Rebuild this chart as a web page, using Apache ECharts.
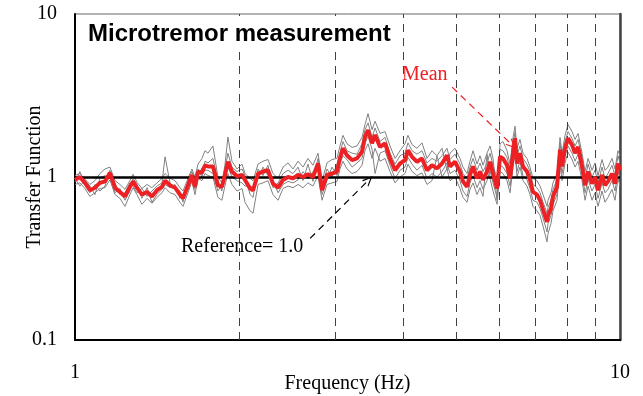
<!DOCTYPE html>
<html><head><meta charset="utf-8">
<script src="https://cdn.jsdelivr.net/npm/echarts@6/dist/echarts.min.js"></script>
<style>html,body{margin:0;padding:0;background:#fff}#c{width:643px;height:396px}</style>
</head><body><div id="c"></div>
<script>
const freq = [
1.000,1.021,1.043,1.065,1.088,1.111,1.135,1.159,1.184,1.209,
1.235,1.261,1.278,1.299,1.327,1.356,1.384,1.414,1.444,1.463,
1.494,1.526,1.558,1.578,1.612,1.639,1.660,1.682,1.710,1.732,
1.754,1.791,1.829,1.860,1.884,1.908,1.941,1.983,2.025,2.051,
2.095,2.122,2.167,2.213,2.260,2.308,2.358,2.408,2.460,2.512,
2.566,2.620,2.676,2.733,2.792,2.840,2.900,2.962,3.025,3.063,
3.102,3.155,3.224,3.292,3.362,3.405,3.449,3.508,3.553,3.628,
3.706,3.784,3.866,3.948,4.032,4.083,4.153,4.242,4.332,4.425,
4.519,4.615,4.714,4.814,4.876,4.980,5.086,5.151,5.240,5.306,
5.374,5.466,5.535,5.606,5.702,5.775,5.848,5.948,6.024,6.100,
6.204,6.284,6.364,6.418,6.471,6.554,6.637,6.750,6.837,6.924,
7.043,7.133,7.224,7.347,7.378,7.472,7.535,7.664,7.762,7.828,
7.928,8.029,8.166,8.270,8.376,8.519,8.628,8.738,8.885,8.999,
9.114,9.268,9.387,9.506,9.667,9.791,9.916,10.0];

const meanTF = [
0.96,1.00,0.92,0.83,0.86,0.92,0.94,1.06,0.86,0.81,
0.76,0.87,0.94,0.86,0.78,0.81,0.76,0.83,0.87,0.95,
0.89,0.86,0.78,0.74,0.89,1.03,0.87,1.08,1.06,1.18,
1.16,1.16,0.89,0.87,1.03,1.24,1.08,1.01,1.03,0.96,
0.85,0.83,1.05,1.08,1.10,0.91,0.86,0.96,1.00,0.98,
1.03,1.00,1.04,1.00,1.21,0.83,1.03,1.05,1.08,1.30,
1.50,1.36,1.27,1.30,1.43,1.77,1.94,1.61,1.81,1.53,
1.61,1.30,1.10,1.21,1.27,1.46,1.33,1.24,1.30,1.10,
1.18,1.13,1.21,1.36,1.16,1.24,1.08,0.94,0.87,1.03,
1.16,0.98,1.08,0.96,1.08,1.24,1.05,0.85,1.33,1.30,
1.18,0.98,1.40,1.73,1.21,1.40,1.16,1.08,0.96,0.81,
0.78,0.72,0.63,0.53,0.58,0.64,0.76,0.87,1.47,1.16,
1.50,1.73,1.57,1.40,1.53,1.16,0.89,1.08,0.91,1.00,
0.83,1.03,0.89,0.94,1.05,0.91,1.21,1.10];

const run1 = [
1.02,1.05,0.97,0.90,0.95,1.05,1.12,1.15,0.95,0.90,
0.84,0.95,1.04,0.93,0.85,0.90,0.86,0.92,0.98,1.05,
0.98,0.95,0.86,0.82,0.98,1.12,1.00,1.20,1.30,1.45,
1.40,1.55,1.00,0.92,1.18,1.76,1.25,1.12,1.20,1.05,
0.98,0.95,1.20,1.25,1.28,1.05,0.98,1.15,1.22,1.12,
1.25,1.15,1.30,1.18,1.40,0.95,1.22,1.28,1.30,1.55,
1.80,1.60,1.52,1.55,1.75,2.10,2.45,1.95,2.20,1.85,
1.90,1.55,1.30,1.45,1.60,1.80,1.58,1.50,1.62,1.30,
1.45,1.35,1.50,1.10,1.40,1.50,1.30,1.15,1.05,1.25,
1.45,1.20,1.35,1.18,1.40,1.55,1.30,0.72,1.60,1.65,
1.45,1.20,1.75,2.05,1.50,1.70,1.40,1.30,1.15,0.98,
0.95,0.88,0.78,0.66,0.72,0.80,0.92,1.05,1.75,1.40,
1.80,2.10,1.90,1.70,1.85,1.40,1.08,1.30,1.10,1.22,
1.02,1.28,1.10,1.15,1.30,1.12,1.45,1.35];

const run2 = [
0.90,0.92,0.85,0.76,0.80,0.85,0.86,0.96,0.78,0.74,
0.66,0.78,0.86,0.78,0.68,0.74,0.69,0.75,0.80,0.86,
0.80,0.78,0.70,0.66,0.80,0.94,0.78,0.98,0.95,1.05,
1.02,1.00,0.75,0.72,0.88,1.05,0.90,0.82,0.85,0.70,
0.62,0.60,0.90,0.92,0.95,0.78,0.72,0.85,0.88,0.86,
0.90,0.86,0.92,0.88,1.02,0.72,0.90,0.92,0.94,1.12,
1.25,1.12,1.05,1.08,1.18,1.45,1.60,1.30,1.50,1.25,
1.30,1.08,0.92,1.00,1.05,1.20,1.08,1.02,1.06,0.90,
0.95,1.35,1.00,1.12,0.95,1.00,0.85,0.75,0.70,0.84,
0.92,0.78,0.86,0.76,1.38,0.98,0.82,0.68,1.08,1.05,
0.95,0.80,1.15,1.45,1.00,1.15,0.95,0.88,0.78,0.66,
0.62,0.58,0.50,0.40,0.45,0.52,0.62,0.72,1.20,0.95,
1.22,1.42,1.28,1.15,1.25,0.95,0.72,0.88,0.72,0.80,
0.66,0.82,0.70,0.75,0.84,0.72,0.98,0.88];

const run3 = [
0.98,0.88,0.95,0.88,0.78,0.98,1.02,0.98,0.92,0.78,
0.80,0.92,0.88,0.80,0.85,0.76,0.82,0.88,0.92,1.33,
0.92,0.84,0.82,0.70,0.95,1.08,0.92,1.12,1.00,1.25,
1.22,1.30,0.95,0.82,1.10,1.40,1.15,1.08,1.12,1.02,
0.78,0.75,1.12,1.02,1.18,0.86,0.92,1.05,1.10,1.05,
1.15,0.95,1.20,0.94,1.30,0.88,1.12,1.00,1.20,1.40,
1.65,1.45,1.40,1.38,1.60,1.95,2.15,1.75,2.00,1.65,
1.75,1.40,1.20,1.35,1.40,1.62,1.45,1.38,1.45,1.22,
1.30,1.25,1.35,1.50,1.28,1.38,1.20,1.05,0.98,1.15,
1.30,1.10,1.22,1.08,1.22,1.40,1.18,0.98,1.48,1.45,
1.32,1.10,1.58,1.88,1.35,1.55,1.30,1.20,1.08,0.90,
0.86,0.80,0.70,0.60,0.65,0.72,0.84,0.96,1.62,1.28,
1.65,1.90,1.72,1.55,1.70,1.30,0.98,1.20,1.00,1.10,
0.92,1.15,0.98,1.05,1.18,1.02,1.35,1.22];

const run4 = [
0.93,1.08,0.90,0.80,0.90,0.82,0.88,1.10,0.80,0.85,
0.72,0.82,0.98,0.90,0.74,0.86,0.70,0.78,0.84,0.90,
0.86,0.90,0.74,0.78,0.84,0.98,0.84,1.02,1.14,1.10,
1.10,1.05,0.82,0.90,0.95,1.15,1.00,0.95,0.92,0.88,
0.88,0.86,0.98,1.15,1.02,0.95,0.80,0.90,0.94,0.92,
0.96,1.08,0.98,1.08,1.12,0.78,0.96,1.15,1.02,1.22,
1.35,1.28,1.15,1.22,1.30,1.62,1.78,1.48,1.05,1.40,
1.45,1.18,0.98,1.10,1.15,1.32,1.20,1.10,1.18,0.98,
1.05,1.00,1.08,1.22,1.05,1.10,0.95,0.82,0.76,0.92,
1.02,0.86,0.95,0.84,0.95,1.10,0.92,0.75,1.18,1.15,
1.05,0.88,1.25,1.55,1.08,1.25,1.02,0.96,0.85,0.72,
0.70,0.64,0.56,0.46,0.52,0.58,0.68,0.78,1.30,1.05,
1.35,1.55,1.40,1.25,1.38,1.05,0.80,0.96,0.82,0.90,
0.74,0.92,0.80,0.84,0.95,0.82,1.08,0.98];

const refValue = 1.0;
const gridFreqs = [2, 3, 4, 5, 6, 7, 8, 9];
const meanArrow = [[4.92, 3.56], [6.34, 1.57]];
const refArrow = [[2.70, 0.42], [3.46, 0.96]];
const titleText = 'Microtremor measurement';
const meanText = 'Mean';
const refText = 'Reference= 1.0';

const SERIF = 'Liberation Serif, Times New Roman, serif';
const chevron = 'path://M0,10 L5,0 L10,10 L8.6,10 L5,2.8 L1.4,10 Z';
const pairs = arr => arr.map((v, i) => [freq[i], v]);

const chart = echarts.init(document.getElementById('c'), null, {renderer: 'canvas'});
const grayStyle = {color: '#808080', width: 1};
const grays = [run1, run2, run3, run4].map((r, k) => ({
  type: 'line', name: 'run' + (k + 1), data: pairs(r), showSymbol: false, symbol: 'none',
  lineStyle: grayStyle, z: 3, animation: false, silent: true
}));

chart.setOption({
  animation: false,
  title: {
    text: titleText, left: 84, top: 16,
    padding: [6, 4, 6, 4], backgroundColor: '#fff',
    textStyle: {fontFamily: 'Liberation Sans, Arial, sans-serif', fontWeight: 'bold', fontSize: 24, color: '#000'}
  },
  grid: {left: 75, right: 23, top: 14, bottom: 56, show: true, borderColor: '#666', borderWidth: 1,
         containLabel: false, outerBoundsMode: 'none'},
  xAxis: {
    type: 'log', logBase: 10, min: 1, max: 10,
    name: 'Frequency (Hz)', nameLocation: 'middle', nameGap: 34, nameMoveOverlap: false,
    nameTextStyle: {fontFamily: SERIF, fontSize: 20, color: '#000'},
    axisLine: {show: true, lineStyle: {color: '#000', width: 2}},
    axisTick: {show: false},
    axisLabel: {fontFamily: SERIF, fontSize: 20, color: '#000', margin: 23},
    splitLine: {show: false}, minorSplitLine: {show: false}
  },
  yAxis: [{
    type: 'log', logBase: 10, min: 0.1, max: 10, position: 'left',
    name: 'Transfer Function', nameLocation: 'middle', nameGap: 30, nameMoveOverlap: false,
    nameTextStyle: {fontFamily: SERIF, fontSize: 20, color: '#000'},
    axisLine: {show: true, lineStyle: {color: '#000', width: 2}},
    axisTick: {show: false},
    axisLabel: {fontFamily: SERIF, fontSize: 20, color: '#000', margin: 18},
    splitLine: {show: false}
  }, {
    type: 'log', logBase: 10, min: 0.1, max: 10, position: 'right',
    axisLine: {show: true, lineStyle: {color: '#444', width: 2.5}},
    axisTick: {show: false}, axisLabel: {show: false}, splitLine: {show: false}
  }],
  graphic: [
    {type: 'text', left: 402, top: 65, style: {text: meanText, fill: '#ed2024', font: '20px ' + SERIF}},
    {type: 'text', left: 181, top: 237, style: {text: refText, fill: '#000', font: '20px ' + SERIF}}
  ],
  series: [
    {
      type: 'line', name: 'grid', data: [], z: 1, silent: true,
      markLine: {
        silent: true, symbol: 'none', label: {show: false}, animation: false,
        lineStyle: {color: '#404040', width: 1, type: [8, 6]},
        data: gridFreqs.map(f => ({xAxis: f}))
      }
    },
    ...grays,
    {
      type: 'line', name: 'ref', data: [], z: 4, silent: true,
      markLine: {
        silent: true, symbol: 'none', label: {show: false}, animation: false,
        lineStyle: {color: '#000', width: 2.5, type: 'solid'},
        data: [{yAxis: refValue}]
      }
    },
    {
      type: 'line', name: 'Mean', data: pairs(meanTF), showSymbol: false, symbol: 'none',
      lineStyle: {color: '#ed2024', width: 4}, z: 5, silent: true
    },
    {
      type: 'line', name: 'arrows', data: [], z: 6, silent: true,
      markLine: {
        silent: true, symbol: ['none', chevron], symbolSize: [9, 10], label: {show: false}, animation: false,
        data: [
          [{coord: meanArrow[0], lineStyle: {color: '#ed2024', width: 1.2, type: [7, 5]}}, {coord: meanArrow[1]}],
          [{coord: refArrow[0], lineStyle: {color: '#000', width: 1.2, type: [7, 5]}}, {coord: refArrow[1]}]
        ]
      }
    }
  ]
});
</script></body></html>
